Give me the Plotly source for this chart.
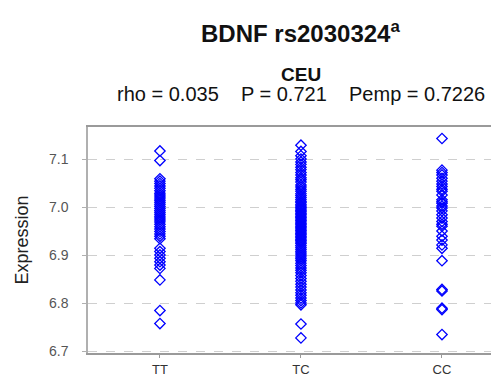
import plotly.graph_objects as go

categories = ["TT", "TC", "CC"]

tt_values = [7.118, 7.098, 7.060, 7.055, 7.050, 7.045, 7.040, 7.035, 7.030, 7.026, 7.022, 7.018,
             7.014, 7.010, 7.006, 7.002, 6.998, 6.994, 6.990, 6.986, 6.982, 6.978, 6.974, 6.970,
             6.965, 6.960, 6.955, 6.950, 6.945, 6.940, 6.935, 6.915, 6.908, 6.901, 6.894, 6.887,
             6.880, 6.873, 6.849, 6.785, 6.758]

tc_values = [7.130, 7.117, 7.108, 7.101, 7.095, 7.090, 7.084, 7.079, 7.073, 7.068, 7.062, 7.058,
             7.053, 7.047, 7.043, 7.038, 7.034, 7.029, 7.025, 7.021, 7.017, 7.013, 7.010, 7.006,
             7.003, 7.000, 6.997, 6.994, 6.991, 6.988, 6.985, 6.982, 6.979, 6.976, 6.973, 6.970,
             6.967, 6.964, 6.961, 6.958, 6.955, 6.952, 6.949, 6.946, 6.943, 6.940, 6.937, 6.934,
             6.931, 6.928, 6.925, 6.921, 6.917, 6.913, 6.909, 6.905, 6.901, 6.897, 6.893, 6.889,
             6.884, 6.879, 6.874, 6.869, 6.864, 6.858, 6.852, 6.846, 6.840, 6.834, 6.828, 6.822,
             6.817, 6.811, 6.806, 6.801, 6.797, 6.757, 6.728]

cc_values = [7.144, 7.078, 7.073, 7.068, 7.061, 7.055, 7.049, 7.044, 7.038, 7.034, 7.026, 7.016,
             7.012, 7.009, 7.003, 6.999, 6.993, 6.985, 6.978, 6.971, 6.965, 6.961, 6.951, 6.940,
             6.932, 6.922, 6.915, 6.889, 6.829, 6.826, 6.790, 6.787, 6.735]

y_ticks = [6.7, 6.8, 6.9, 7.0, 7.1]
y_tick_labels = ["6.7", "6.8", "6.9", "7.0", "7.1"]

title_main = "<b>BDNF rs2030324<sup>a</sup></b>"
title_pop = "<b>CEU</b>"
title_stats = "rho = 0.035    P = 0.721    Pemp = 0.7226"

series = [tt_values, tc_values, cc_values]

fig = go.Figure()
for cat, vals in zip(categories, series):
    fig.add_trace(go.Scatter(
        x=[cat] * len(vals), y=vals, mode="markers",
        marker=dict(symbol="diamond-open", size=8, color="#0000FF",
                    line=dict(width=1.3, color="#0000FF")),
        showlegend=False, hoverinfo="y"))

font_main = "Liberation Sans, Arial, sans-serif"

fig.update_layout(
    width=499, height=376,
    margin=dict(l=80, r=0, t=119, b=31),
    paper_bgcolor="white", plot_bgcolor="white",
    font=dict(family=font_main, color="#222"),
    xaxis=dict(
        type="category", categoryorder="array", categoryarray=categories,
        range=[-0.51, 2.461],
        showline=True, linecolor="#9a9a9a", linewidth=2, mirror=True,
        showgrid=False, zeroline=False,
        ticks="outside", ticklen=3, tickcolor="#9a9a9a",
        tickfont=dict(size=13, color="#333"),
    ),
    yaxis=dict(
        range=[6.6965, 7.168],
        tickvals=y_ticks, ticktext=y_tick_labels,
        showline=True, linecolor="#b0b0b0", linewidth=1.5,
        showgrid=True, gridcolor="#cfcfcf", gridwidth=1, griddash="dash",
        zeroline=False,
        ticks="outside", ticklen=4, tickcolor="#b0b0b0",
        ticklabelstandoff=11,
        tickfont=dict(size=14, color="#555"),
        title=dict(text="Expression", font=dict(size=18, color="#222"), standoff=16),
    ),
    annotations=[
        dict(text=title_main, xref="paper", yref="paper", x=0.508, y=1.0,
             yshift=95, xanchor="center", yanchor="middle", showarrow=False,
             font=dict(size=24, color="#111", family=font_main)),
        dict(text=title_pop, xref="paper", yref="paper", x=0.508, y=1.0,
             yshift=53, xanchor="center", yanchor="middle", showarrow=False,
             font=dict(size=19, color="#111", family=font_main)),
        dict(text=title_stats, xref="paper", yref="paper", x=0.508, y=1.0,
             yshift=33, xanchor="center", yanchor="middle", showarrow=False,
             font=dict(size=20, color="#111", family=font_main)),
    ],
)

fig.write_html("out.html")
